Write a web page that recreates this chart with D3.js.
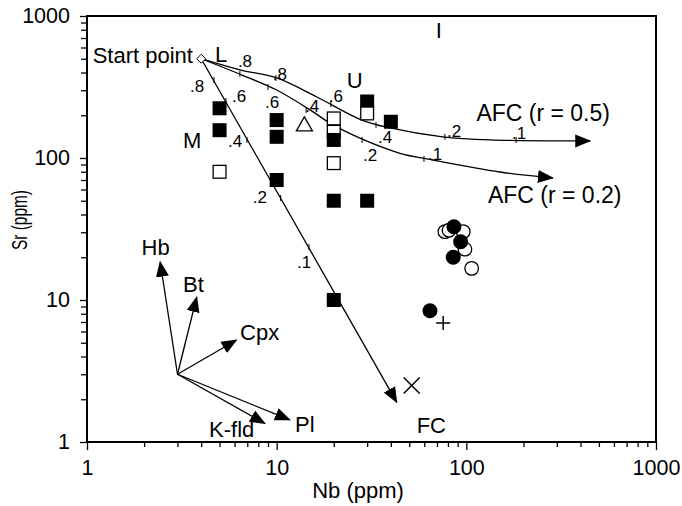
<!DOCTYPE html>
<html>
<head>
<meta charset="utf-8">
<script src="https://cdn.jsdelivr.net/npm/d3@7"></script>
<style>
  body { margin: 0; background: #fff; }
  svg text { font-family: "Liberation Sans", Arial, sans-serif; fill: #000; }
</style>
</head>
<body>
<div id="chart"></div>
<script>
// ---- data (Nb, Sr in ppm) ----
var startNb = 4, startSr = 500;

var fcNb = [4, 43];
var fcSr = [500, 1.9];
var fcTickLabels = [".8", ".6", ".4", ".2", ".1"];
var fcTickNb = [4.67, 5.4, 6.97, 10.5, 14.8];
var fcTickSr = [354, 252, 134, 52.3, 23.6];

var afc05Nb = [4, 6.4, 10, 16.2, 28.1, 39.6, 75, 133, 450];
var afc05Sr = [500, 417, 366, 270, 185, 163, 141, 134, 132];
var afc05TickLabels = [".8", ".6", ".4", ".2", ".1"];
var afc05TickNb = [9.9, 19.3, 33.4, 77.1, 183];
var afc05TickSr = [366, 240, 171, 141, 134];

var afc02Nb = [4, 6.56, 10, 15.5, 19.1, 27.5, 44.7, 66.7, 150, 286];
var afc02Sr = [500, 384, 301, 212, 176, 138, 108, 96.8, 79.7, 72.3];
var afc02TickLabels = [".8", ".6", ".4", ".2", ".1"];
var afc02TickNb = [6.4, 9.0, 14.3, 28.2, 59.8];
var afc02TickSr = [391, 316, 218, 134, 98.4];

// filled squares (the last pair sits on top of an open square)
var filledSqNb = [5, 5, 10, 10, 10, 20, 20, 30, 30, 40];
var filledSqSr = [224, 157, 185, 141, 70, 50, 10, 250, 50, 180];
var filledSqTopNb = [20];
var filledSqTopSr = [134];
var openSqNb = [5, 20, 20, 20, 30];
var openSqSr = [80, 190, 153, 92, 206];
var triNb = [14], triSr = [171];
var openCircNb = [77.1, 81, 96.3, 98.3, 106.7];
var openCircSr = [30.3, 31, 30.3, 22.8, 16.7];
var filledCircNb = [86, 93.3, 85.3, 64.3];
var filledCircSr = [32.8, 25.7, 20, 8.4];
var plusNb = [75.5], plusSr = [6.9];
var crossNb = [51.5], crossSr = [2.5];

// mineral vectors from a common origin
var vecOriginNb = 3, vecOriginSr = 3;
var vecNames = ["Hb", "Bt", "Cpx", "K-fld", "Pl"];
var vecTipNb = [2.43, 3.79, 6.15, 8.68, 11.75];
var vecTipSr = [18.6, 10.5, 5.23, 1.35, 1.43];
var vecLabelNb = [1.94, 3.21, 6.41, 4.40, 12.5];
var vecLabelSr = [20.7, 11.3, 5.23, 1.09, 1.18];

// text annotations: [text, Nb, Sr, anchor, font px]
var notes = [
  ["Start point", 3.62, 467, "end", 22],
  ["L", 4.73, 477, "start", 22],
  ["M", 3.21, 118, "start", 22],
  ["U", 23.4, 310, "start", 22],
  ["I", 69, 700, "start", 22],
  ["AFC (r = 0.5)", 113, 181, "start", 23],
  ["AFC (r = 0.2)", 130, 48.2, "start", 23],
  ["FC", 54.7, 1.157, "start", 22]
];

var majorTicks = [1, 10, 100, 1000];

// label offsets (px) from the tick on each curve
var fcLabelOff = [[-24, 12], [6, 1], [-19, 7], [-28, 5], [-12, 21]];
var afc05LabelOff = [[-3, 2], [-2, -2], [2, 18], [2, 0], [-4, -1]];
var afc02LabelOff = [[-2, -7], [-3, 21], [-1, 2], [1, 21], [4, 1]];

var width = 682, height = 506;

var svg = d3.select("#chart").append("svg")
    .attr("width", width)
    .attr("height", height);

var x = d3.scaleLog().domain([1, 1000]).range([87, 656]);
var y = d3.scaleLog().domain([1, 1000]).range([442, 16]);

var defs = svg.append("defs");
defs.append("marker")
    .attr("id", "head")
    .attr("markerUnits", "userSpaceOnUse")
    .attr("viewBox", "0 -7 16 14")
    .attr("markerWidth", 16)
    .attr("markerHeight", 14)
    .attr("refX", 15)
    .attr("refY", 0)
    .attr("orient", "auto")
  .append("path")
    .attr("d", "M0,-6.5L16,0L0,6.5Z")
    .attr("fill", "#000");

// ---- axes ----
var minor = [];
for (var e = 0; e < 3; e++)
  for (var m = 2; m < 10; m++) minor.push(m * Math.pow(10, e));

svg.append("g").attr("transform", "translate(0,442)")
    .call(d3.axisBottom(x).tickValues(minor).tickSize(5).tickFormat(""));
svg.append("g").attr("transform", "translate(0,442)")
    .call(d3.axisBottom(x).tickValues(majorTicks).tickSize(8).tickPadding(10).tickFormat(d3.format("d")));
svg.append("g").attr("transform", "translate(87,0)")
    .call(d3.axisLeft(y).tickValues(minor).tickSize(6).tickFormat(""));
svg.append("g").attr("transform", "translate(87,0)")
    .call(d3.axisLeft(y).tickValues(majorTicks).tickSize(7).tickPadding(10).tickFormat(d3.format("d")));

svg.selectAll(".domain").remove();
svg.selectAll(".tick line").attr("stroke", "#000").attr("stroke-width", 1.3);
svg.selectAll(".tick text").style("font-size", "21.5px").attr("fill", "#000");

// frame
svg.append("rect")
    .attr("x", 87).attr("y", 16)
    .attr("width", 656 - 87).attr("height", 442 - 16)
    .attr("fill", "none")
    .attr("stroke", "#000")
    .attr("stroke-width", 2);

svg.append("text")
    .attr("x", 358)
    .attr("y", 498)
    .attr("text-anchor", "middle")
    .style("font-size", "22px")
    .text("Nb (ppm)");

// the y title is squeezed along its length in the original
svg.append("text")
    .attr("transform", "translate(27,220) rotate(-90) scale(0.7,1)")
    .attr("text-anchor", "middle")
    .style("font-size", "22px")
    .text("Sr (ppm)");

// ---- model curves ----
function pts(nb, sr) { return nb.map(function (v, i) { return [x(v), y(sr[i])]; }); }

var smooth = d3.line().curve(d3.curveCatmullRom.alpha(0.5));
var straight = d3.line();

svg.append("path").attr("d", straight(pts(fcNb, fcSr)))
    .attr("fill", "none").attr("stroke", "#000").attr("stroke-width", 1.3)
    .attr("marker-end", "url(#head)");
svg.append("path").attr("d", smooth(pts(afc05Nb, afc05Sr)))
    .attr("fill", "none").attr("stroke", "#000").attr("stroke-width", 1.3)
    .attr("marker-end", "url(#head)");
svg.append("path").attr("d", smooth(pts(afc02Nb, afc02Sr)))
    .attr("fill", "none").attr("stroke", "#000").attr("stroke-width", 1.3)
    .attr("marker-end", "url(#head)");

function curveTicks(labels, nb, sr, off) {
  var g = svg.append("g");
  labels.forEach(function (t, i) {
    var px = x(nb[i]), py = y(sr[i]);
    g.append("line")
        .attr("x1", px).attr("x2", px)
        .attr("y1", py - 3).attr("y2", py + 3)
        .attr("stroke", "#000").attr("stroke-width", 1);
    g.append("text")
        .attr("x", px + off[i][0]).attr("y", py + off[i][1])
        .style("font-size", "17px")
        .text(t);
  });
}
curveTicks(fcTickLabels, fcTickNb, fcTickSr, fcLabelOff);
curveTicks(afc05TickLabels, afc05TickNb, afc05TickSr, afc05LabelOff);
curveTicks(afc02TickLabels, afc02TickNb, afc02TickSr, afc02LabelOff);

// ---- mineral vectors ----
vecNames.forEach(function (n, i) {
  svg.append("line")
      .attr("x1", x(vecOriginNb)).attr("y1", y(vecOriginSr))
      .attr("x2", x(vecTipNb[i])).attr("y2", y(vecTipSr[i]))
      .attr("stroke", "#000").attr("stroke-width", 1.3)
      .attr("marker-end", "url(#head)");
  svg.append("text")
      .attr("x", x(vecLabelNb[i])).attr("y", y(vecLabelSr[i]))
      .style("font-size", "22px")
      .text(n);
});

// ---- samples ----
var sq = 14;
function filledSquares(nb, sr) {
  svg.append("g").selectAll("rect").data(nb).enter().append("rect")
      .attr("x", function (d) { return x(d) - sq / 2; })
      .attr("y", function (d, i) { return y(sr[i]) - sq / 2; })
      .attr("width", sq).attr("height", sq)
      .attr("fill", "#000");
}
filledSquares(filledSqNb, filledSqSr);
svg.append("g").selectAll("rect").data(openSqNb).enter().append("rect")
    .attr("x", function (d) { return x(d) - sq / 2 + 0.6; })
    .attr("y", function (d, i) { return y(openSqSr[i]) - sq / 2 + 0.6; })
    .attr("width", sq - 1.2).attr("height", sq - 1.2)
    .attr("fill", "#fff").attr("stroke", "#000").attr("stroke-width", 1.3);
filledSquares(filledSqTopNb, filledSqTopSr);

svg.selectAll(".tri").data(triNb).enter().append("path")
    .attr("transform", function (d, i) { return "translate(" + x(d) + "," + y(triSr[i]) + ")"; })
    .attr("d", "M0,-8L8,6L-8,6Z")
    .attr("fill", "#fff").attr("stroke", "#000").attr("stroke-width", 1.3);

svg.selectAll(".oc").data(openCircNb).enter().append("circle")
    .attr("cx", function (d) { return x(d); })
    .attr("cy", function (d, i) { return y(openCircSr[i]); })
    .attr("r", 6.8)
    .attr("fill", "#fff").attr("stroke", "#000").attr("stroke-width", 1.3);
svg.selectAll(".fc").data(filledCircNb).enter().append("circle")
    .attr("cx", function (d) { return x(d); })
    .attr("cy", function (d, i) { return y(filledCircSr[i]); })
    .attr("r", 7.5)
    .attr("fill", "#000");

svg.selectAll(".plus").data(plusNb).enter().append("path")
    .attr("transform", function (d, i) { return "translate(" + x(d) + "," + y(plusSr[i]) + ")"; })
    .attr("d", "M-7,0H7M0,-7V7")
    .attr("stroke", "#000").attr("stroke-width", 1.5);
svg.selectAll(".cross").data(crossNb).enter().append("path")
    .attr("transform", function (d, i) { return "translate(" + x(d) + "," + y(crossSr[i]) + ")"; })
    .attr("d", "M-8,-8L8,8M-8,8L8,-8")
    .attr("stroke", "#000").attr("stroke-width", 1.5);

// start point diamond
svg.append("path")
    .attr("transform", "translate(" + x(startNb) + "," + y(startSr) + ")")
    .attr("d", "M0,-4.5L4.5,0L0,4.5L-4.5,0Z")
    .attr("fill", "#fff").attr("stroke", "#000").attr("stroke-width", 1);

// ---- text annotations ----
svg.selectAll(".note").data(notes).enter().append("text")
    .attr("x", function (d) { return x(d[1]); })
    .attr("y", function (d) { return y(d[2]); })
    .attr("text-anchor", function (d) { return d[3]; })
    .style("font-size", function (d) { return d[4] + "px"; })
    .text(function (d) { return d[0]; });
</script>
</body>
</html>
